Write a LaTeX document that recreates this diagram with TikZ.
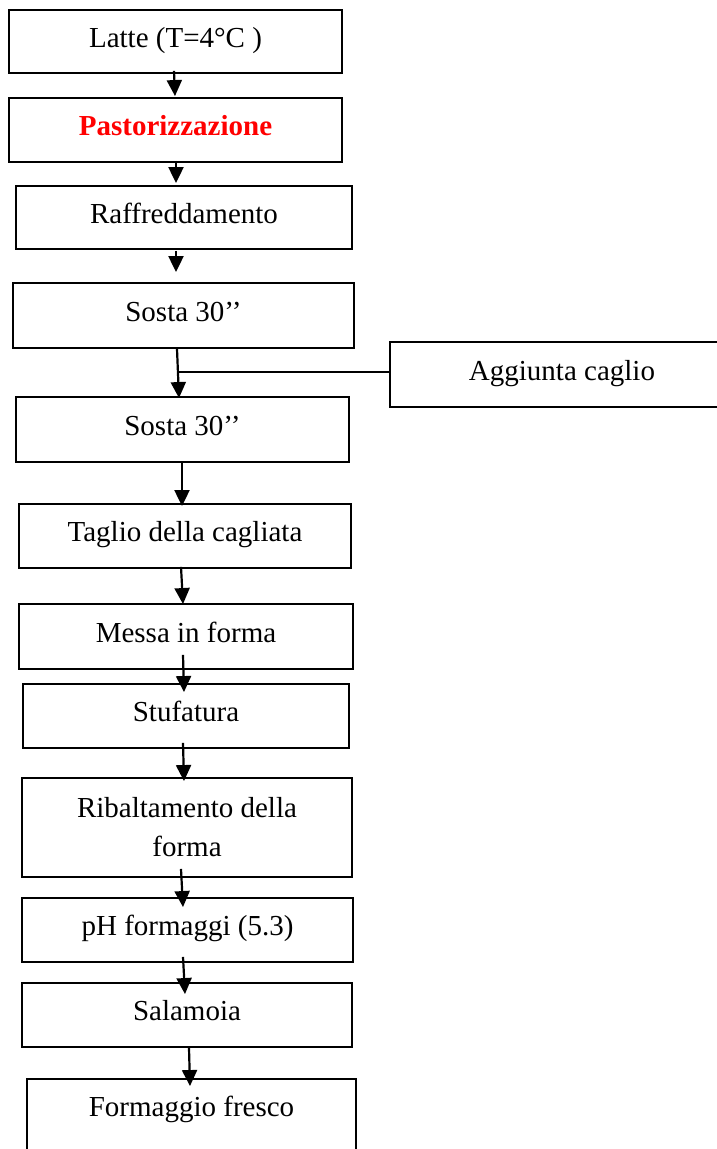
\documentclass[tikz,border=0pt]{standalone}
\usepackage{fontspec}
\setmainfont{Liberation Serif}
\usetikzlibrary{arrows.meta,calc}
\tikzset{
  box/.style={draw, line width=1.9pt, rectangle, inner sep=0pt,
    font=\fontsize{29}{39}\selectfont, text height=16pt, text depth=4.5pt},
  arr/.style={line width=2.2pt, -{Triangle[length=16pt,width=15pt]}},
  conn/.style={line width=2pt}
}
\begin{document}
\begin{tikzpicture}[x=1pt,y=-1pt]
\useasboundingbox (0,0) rectangle (717,1149);
\clip (0,0) rectangle (717,1149);
\node[box, minimum width=333pt, minimum height=63pt] (lat) at (175.5,41.5) {Latte (T=4°C )};
\node[box, minimum width=333pt, minimum height=64pt, text=red, font=\fontsize{29}{39}\selectfont\bfseries] (pas) at (175.5,130) {Pastorizzazione};
\node[box, minimum width=336pt, minimum height=63pt] (raf) at (184,217.5) {Raffreddamento};
\node[box, minimum width=341pt, minimum height=65pt] (so1) at (183.5,315.5) {Sosta 30’’};
\node[box, minimum width=344pt, minimum height=65pt] (agg) at (562,374.5) {Aggiunta caglio};
\node[box, minimum width=333pt, minimum height=65pt] (so2) at (182.5,429.5) {Sosta 30’’};
\node[box, minimum width=332pt, minimum height=64pt] (tag) at (185,536) {Taglio della cagliata};
\node[box, minimum width=334pt, minimum height=65pt] (mes) at (186,636.5) {Messa in forma};
\node[box, minimum width=326pt, minimum height=64pt] (stu) at (186,716) {Stufatura};
\node[box, minimum width=330pt, minimum height=99pt, align=center, text height=, text depth=] (rib) at (187,827.5) {Ribaltamento della\\forma};
\node[box, minimum width=331pt, minimum height=64pt] (ph) at (187.5,930) {pH formaggi (5.3)};
\node[box, minimum width=330pt, minimum height=64pt] (sal) at (187,1015) {Salamoia};
\node[box, minimum width=329pt, minimum height=86pt, text height=16pt, text depth=28pt] (for) at (191.5,1122) {Formaggio fresco};
\coordinate (j) at (178,372);
\draw[arr] ($(lat.south)+(-1.5,-3)$) -- ($(pas.north)+(-0.5,-1)$);
\draw[arr] ($(pas.south)+(0.5,-2)$) -- ($(raf.north)+(-8,-2)$);
\draw[arr] ($(raf.south)+(-8,1)$) -- ($(so1.north)+(-7.5,-10)$);
\draw[arr] ($(so1.south)+(-6.5,0)$) -- ($(so2.north)+(-3.5,2)$);
\draw[conn] (agg.west|-j) -- (j);
\draw[arr] ($(so2.south)+(-0.5,0)$) -- ($(tag.north)+(-3,3)$);
\draw[arr] ($(tag.south)+(-4,-2)$) -- ($(mes.north)+(-3,1)$);
\draw[arr] ($(mes.south)+(-3,-15)$) -- ($(stu.north)+(-2,9)$);
\draw[arr] ($(stu.south)+(-3,-6)$) -- ($(rib.north)+(-3,4)$);
\draw[arr] ($(rib.south)+(-6,-9)$) -- ($(ph.north)+(-4.5,10)$);
\draw[arr] ($(ph.south)+(-4.5,-6)$) -- ($(sal.north)+(-2,12)$);
\draw[arr] ($(sal.south)+(2,0)$) -- ($(for.north)+(-1.5,8)$);
\end{tikzpicture}
\end{document}
